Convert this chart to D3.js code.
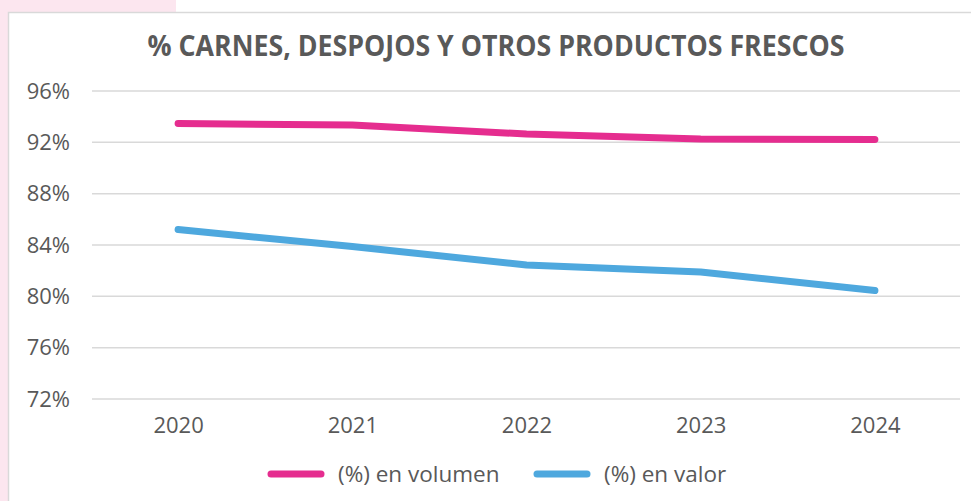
<html lang="es">
<head>
  <meta charset="UTF-8"/>
  <title>% Carnes, despojos y otros productos frescos</title>
  <script src="https://d3js.org/d3.v7.min.js"></script>
</head>
<body>
  <svg id="chart" width="971" height="501"></svg>
</body>
<style>
body {
  margin: 0;
  font-family: 'Open Sans', sans-serif;
}

svg {
  display: block;
  background: #fff;
  font-family: 'Open Sans', sans-serif;
}

text {
  fill: #595959;
}

text.title {
  font-size: 28px;
  font-weight: 700;
}

.grid line {
  stroke: #d9d9d9;
  stroke-width: 1.5;
}

.axis text {
  font-size: 22px;
}

text.legend {
  font-size: 22.5px;
}

path.serie {
  fill: none;
  stroke-width: 7;
  stroke-linecap: round;
  stroke-linejoin: round;
}
</style>

<script>
    const years = ['2020', '2021', '2022', '2023', '2024'];
    const volumen = [93.47, 93.35, 92.65, 92.26, 92.22];
    const valor = [85.2, 83.88, 82.44, 81.89, 80.45];
    const yTicks = [72, 76, 80, 84, 88, 92, 96];
    const seriesNames = ['(%) en volumen', '(%) en valor'];
    const colors = ['#e52d8f', '#4ea8de'];

    const svg = d3.select('#chart');

    // pink decoration behind the frame + frame border
    svg.append('rect')
      .attr('x', 0).attr('y', 0)
      .attr('width', 176).attr('height', 501)
      .attr('fill', '#fce6ef');
    svg.append('rect')
      .attr('x', 8.5).attr('y', 12.5)
      .attr('width', 980).attr('height', 500)
      .attr('fill', '#fff')
      .attr('stroke', '#d9d9d9')
      .attr('stroke-width', 1.5);

    svg.append('text')
      .attr('class', 'title')
      .attr('x', 496)
      .attr('y', 56)
      .attr('text-anchor', 'middle')
      .attr('textLength', 697)
      .attr('lengthAdjust', 'spacingAndGlyphs')
      .text('% CARNES, DESPOJOS Y OTROS PRODUCTOS FRESCOS');

    const xScale = d3.scalePoint()
      .domain(years)
      .range([91, 962])
      .padding(0.5);

    const yScale = d3.scaleLinear()
      .domain([72, 96])
      .range([399, 91]);

    // horizontal grid
    svg.append('g')
      .attr('class', 'grid')
      .selectAll('line')
      .data(yTicks)
      .join('line')
      .attr('x1', 92)
      .attr('x2', 960)
      .attr('y1', d => yScale(d))
      .attr('y2', d => yScale(d));

    const yAxis = svg.append('g')
      .attr('class', 'axis')
      .attr('transform', 'translate(70,0)')
      .call(d3.axisLeft(yScale).tickValues(yTicks).tickSize(0).tickPadding(0).tickFormat(d => d + '%'))
      .attr('font-family', null)
      .attr('font-size', null);
    yAxis.select('.domain').remove();

    const xAxis = svg.append('g')
      .attr('class', 'axis')
      .attr('transform', 'translate(0,412)')
      .call(d3.axisBottom(xScale).tickSize(0).tickPadding(0))
      .attr('font-family', null)
      .attr('font-size', null);
    xAxis.select('.domain').remove();
    xAxis.selectAll('text').attr('dy', '0.95em');

    const line = d3.line()
      .x((d, i) => xScale(years[i]))
      .y(d => yScale(d));

    [volumen, valor].forEach((serie, i) => {
      svg.append('path')
        .datum(serie)
        .attr('class', 'serie')
        .attr('stroke', colors[i])
        .attr('d', line);
    });

    // legend
    const legendX = [271, 537];
    const legend = svg.append('g');
    seriesNames.forEach((name, i) => {
      legend.append('line')
        .attr('x1', legendX[i]).attr('x2', legendX[i] + 50)
        .attr('y1', 474).attr('y2', 474)
        .attr('stroke', colors[i])
        .attr('stroke-width', 7)
        .attr('stroke-linecap', 'round');
      legend.append('text')
        .attr('class', 'legend')
        .attr('x', legendX[i] + 67)
        .attr('y', 482)
        .text(name);
    });
</script>
</html>
